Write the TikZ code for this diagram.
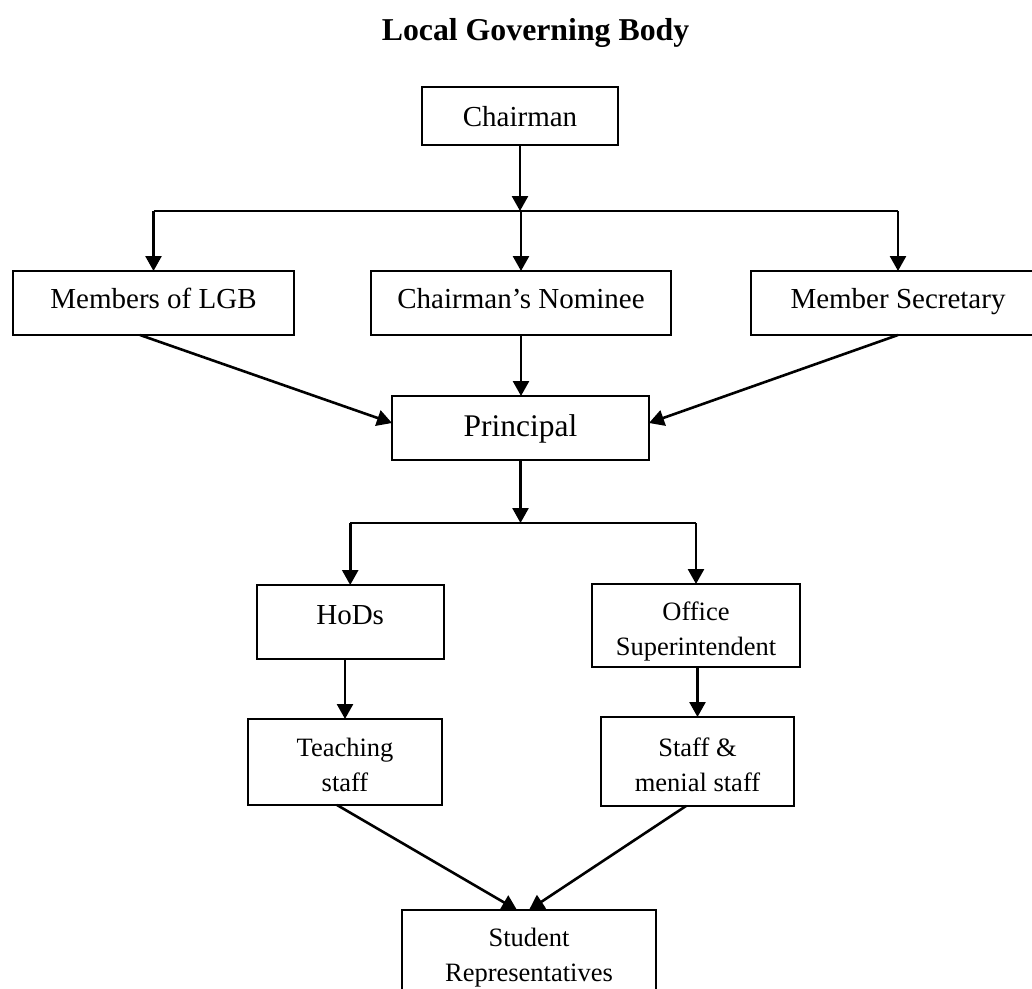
\documentclass[tikz,border=0pt]{standalone}
\usepackage{fontspec}
\setmainfont{Liberation Serif}
\usetikzlibrary{arrows.meta}
\tikzset{
  box/.style={draw, rectangle, line width=2pt, inner sep=0pt, outer sep=0pt, align=center},
  midfont/.style={font=\fontsize{29}{35}\selectfont},
  smallfont/.style={font=\fontsize{26.5}{35}\selectfont},
  arr/.style={line width=2.6pt, -{Triangle[length=15pt,width=16pt]}},
  junction/.style={line width=1.8pt},
}
\begin{document}
\begin{tikzpicture}[x=1pt,y=-1pt]
\clip (0,0) rectangle (1032,988);
\useasboundingbox (0,0) rectangle (1032,988);
% title
\node[anchor=base, font=\fontsize{31.8}{38}\bfseries\selectfont] (title) at (535.5,40) {Local Governing Body};
% boxes
\node[box, midfont, minimum width=196pt, minimum height=58pt, text height=20pt, text depth=0pt] (chair) at (520,116) {Chairman};
\node[box, midfont, minimum width=281pt, minimum height=64pt, text height=15pt, text depth=5pt] (mem) at (153.5,303) {Members of LGB};
\node[box, midfont, minimum width=300pt, minimum height=64pt, text height=15pt, text depth=5pt] (nom) at (521,303) {Chairman’s Nominee};
\node[box, midfont, minimum width=294pt, minimum height=64pt, text height=15pt, text depth=5pt] (sec) at (898,303) {Member Secretary};
\node[box, font=\fontsize{31.5}{38}\selectfont, minimum width=257pt, minimum height=64pt, text height=20pt, text depth=4pt] (prin) at (520.5,428) {Principal};
\node[box, midfont, minimum width=187pt, minimum height=74pt, text height=12pt, text depth=8pt] (hod) at (350.2,622) {HoDs};
\node[box, smallfont, minimum width=208pt, minimum height=83pt] (office) at (696,625.5) {\rule{0pt}{30pt}Office\\Superintendent};
\node[box, smallfont, minimum width=194pt, minimum height=86pt] (teach) at (345,762) {\rule{0pt}{24.5pt}Teaching\\staff};
\node[box, smallfont, minimum width=193pt, minimum height=89pt] (staff) at (697.5,761.5) {\rule{0pt}{24.5pt}Staff \&\\menial staff};
\node[box, smallfont, minimum width=254pt, minimum height=96pt] (stud) at (529,958) {Student\\Representatives};
% junction coordinates
\coordinate (j1) at (521,211);
\coordinate (j2) at (517,523);
% top level
\draw[arr] (chair.south) -- (chair.south |- j1);
\draw[junction] (mem.north |- j1) -- (sec.north |- j1);
\draw[arr] (mem.north |- j1) -- (mem.north);
\draw[arr] (nom.north |- j1) -- (nom.north);
\draw[arr] (sec.north |- j1) -- (sec.north);
% to principal
\draw[arr] ([xshift=-13.5pt]mem.south) -- ([yshift=5pt]prin.west);
\draw[arr] (nom.south) -- (nom.south |- prin.north);
\draw[arr] (sec.south) -- ([yshift=5pt]prin.east);
% principal down
\draw[arr] (prin.south) -- (prin.south |- j2);
\draw[junction] (hod.north |- j2) -- (office.north |- j2);
\draw[arr] (hod.north |- j2) -- (hod.north);
\draw[arr] (office.north |- j2) -- (office.north);
\draw[arr] (teach.north |- hod.south) -- (teach.north);
\draw[arr] (staff.north |- office.south) -- (staff.north);
% to students
\draw[arr] ([xshift=-8pt]teach.south) -- ([xshift=-12pt]stud.north);
\draw[arr] ([xshift=-11.5pt]staff.south) -- (stud.north);
\end{tikzpicture}
\end{document}
